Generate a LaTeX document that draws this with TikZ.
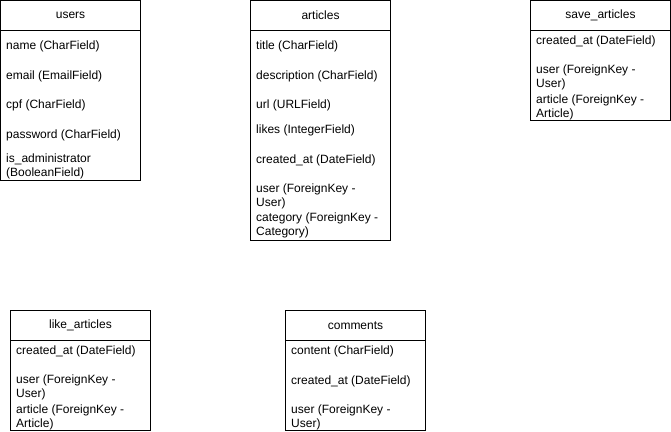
\documentclass[tikz,border=0pt]{standalone}
\usepackage{fontspec}
\setmainfont{Liberation Sans}
\usetikzlibrary{positioning}

\begin{document}
\begin{tikzpicture}[
  x=1pt, y=-1pt,
  font=\fontsize{12}{13.5}\selectfont,
  head/.style={draw, line width=1pt, minimum width=140pt, minimum height=30pt,
               anchor=north west, inner sep=0pt, outer sep=0pt},
  body/.style={draw, line width=1pt, minimum width=140pt, inner sep=0pt,
               outer sep=0pt},
  fld/.style={anchor=west, align=left, inner sep=0pt, yshift=-1pt},
  node distance=0pt
]
  \useasboundingbox (0,0) rectangle (671,431);

  % users
  \node[head]                               (users)     at (0.5,0.5) {users};
  \node[body, minimum height=150pt, below=of users] (usersbody) {};
  \node[fld] (uname)  at (6,45)    {name (CharField)};
  \node[fld] (umail)  at (6,75)    {email (EmailField)};
  \node[fld] (ucpf)   at (6,104)   {cpf (CharField)};
  \node[fld] (upass)  at (6,134)   {password (CharField)};
  \node[fld] (uadmin) at (6,165.5) {is\_administrator\\(BooleanField)};

  % articles
  \node[head]                               (articles)  at (250.5,0.5) {articles};
  \node[body, minimum height=210pt, below=of articles] (artbody) {};
  \node[fld] (atitle) at (256,45)    {title (CharField)};
  \node[fld] (adesc)  at (256,75)    {description (CharField)};
  \node[fld] (aurl)   at (256,104)   {url (URLField)};
  \node[fld] (alikes) at (256,129)   {likes (IntegerField)};
  \node[fld] (acrt)   at (256,159)   {created\_at (DateField)};
  \node[fld] (auser)  at (256,195.5) {user (ForeignKey -\\User)};
  \node[fld] (acat)   at (256,224.5) {category (ForeignKey -\\Category)};

  % save_articles
  \node[head]                               (save)      at (530.5,0.5) {save\_articles};
  \node[body, minimum height=90pt, below=of save] (savebody) {};
  \node[fld] (scrt)   at (536,40)    {created\_at (DateField)};
  \node[fld] (suser)  at (536,76.5)  {user (ForeignKey -\\User)};
  \node[fld] (sart)   at (536,106.5) {article (ForeignKey -\\Article)};

  % like_articles
  \node[head]                               (like)      at (10.5,310.5) {like\_articles};
  \node[body, minimum height=90pt, below=of like] (likebody) {};
  \node[fld] (lcrt)   at (16,350)    {created\_at (DateField)};
  \node[fld] (luser)  at (16,386.5)  {user (ForeignKey -\\User)};
  \node[fld] (lart)   at (16,416.5)  {article (ForeignKey -\\Article)};

  % comments
  \node[head]                               (comments)  at (285.5,310.5) {comments};
  \node[body, minimum height=90pt, below=of comments] (combody) {};
  \node[fld] (ccont)  at (291,350)   {content (CharField)};
  \node[fld] (ccrt)   at (291,380)   {created\_at (DateField)};
  \node[fld] (cuser)  at (291,416.5) {user (ForeignKey -\\User)};
\end{tikzpicture}
\end{document}
